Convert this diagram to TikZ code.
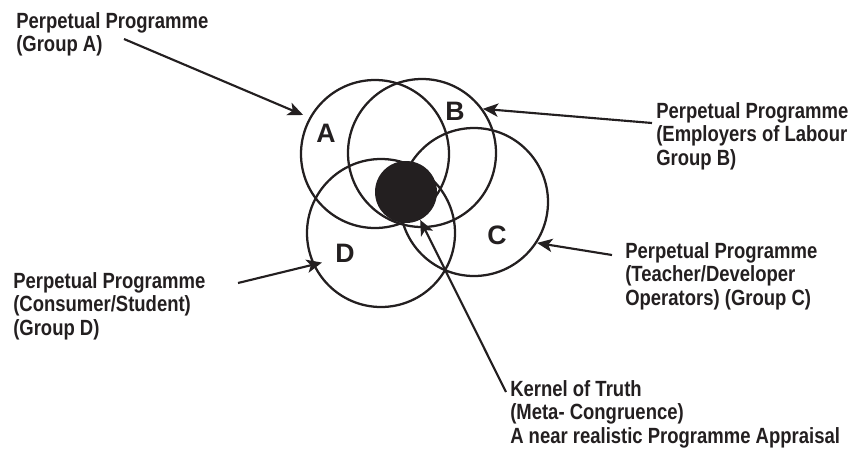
\documentclass[tikz,border=0pt]{standalone}
\usepackage{fontspec}
\usetikzlibrary{arrows.meta}
\setmainfont{Liberation Sans}
\newfontfamily\tagfont{Liberation Sans}[FakeStretch=0.84]
\definecolor{ink}{RGB}{35,31,32}
\tikzset{
  >={Stealth[length=11.5pt,width=10pt,inset=3pt]},
  ring/.style={circle,draw=ink,line width=1.7pt,minimum size=111pt,inner sep=0pt},
  kern/.style={circle,fill=ink,minimum size=46.5pt,inner sep=0pt},
  letter/.style={font=\bfseries\fontsize{20}{20}\selectfont,text=ink,inner sep=0pt},
  tag/.style={font=\tagfont\bfseries\fontsize{16.5}{17.6}\selectfont,text=ink,
    align=left,anchor=north west,inner sep=0pt},
  flow/.style={->,draw=ink,line width=1.6pt},
}
\begin{document}
\begin{tikzpicture}[x=0.75pt,y=-0.75pt]
  \useasboundingbox (0,0) rectangle (853,455);
  % four programme circles and the kernel
  \foreach \n/\x/\y in {A/375/154,B/422/153,C/474/202,D/381/233}
    \node[ring] (c\n) at (\x,\y) {};
  \node[kern] (kernel) at (406,192) {};
  \foreach \n/\x/\y in {A/326/133,B/455/111,C/497/235,D/345/253}
    \node[letter] (l\n) at (\x,\y) {\n};
  % group labels
  \node[tag] (tA) at (16,12) {Perpetual Programme\\(Group A)};
  \node[tag] (tB) at (656,102) {Perpetual Programme\\(Employers of Labour\\Group B)};
  \node[tag] (tC) at (625,242) {Perpetual Programme\\(Teacher/Developer\\Operators) (Group C)};
  \node[tag] (tD) at (13,272) {Perpetual Programme\\(Consumer/Student)\\(Group D)};
  \node[tag] (tK) at (510,380) {Kernel of Truth\\(Meta- Congruence)\\A near realistic Programme Appraisal};
  % arrows
  \coordinate (fA) at (124,39);
  \coordinate (fB) at (652,123);
  \coordinate (fC) at (612,255);
  \coordinate (fD) at (238,283);
  \coordinate (fK) at (506,392);
  \draw[flow,shorten >=5pt] (fA) -- (cA.151);
  \draw[flow] (fB) -- (cB.36);
  \draw[flow] (fC) -- (cC.-33);
  \draw[flow,shorten >=-7pt] (fD) -- (cD.-155);
  \draw[flow] (fK) -- (kernel.-63);
\end{tikzpicture}
\end{document}
